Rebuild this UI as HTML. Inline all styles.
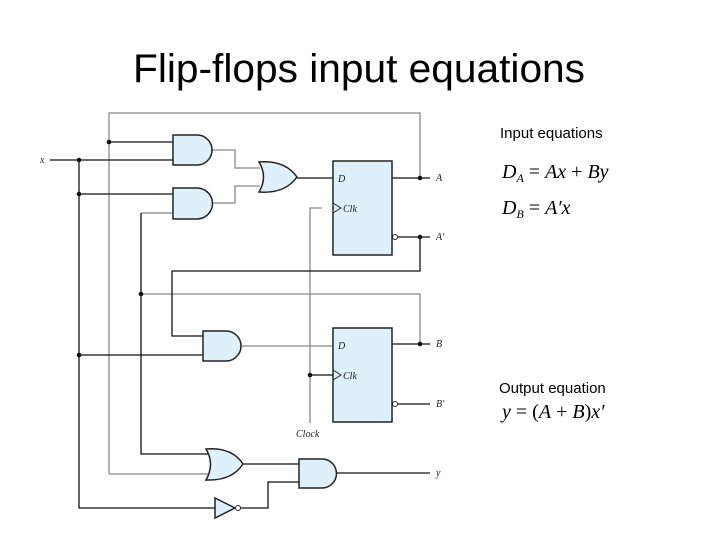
<!DOCTYPE html>
<html><head><meta charset="utf-8"><style>
body{margin:0;background:#fff;width:720px;height:540px;overflow:hidden}
</style></head><body>
<svg width="720" height="540" viewBox="0 0 720 540" xmlns="http://www.w3.org/2000/svg">
<text x="359" y="82" text-anchor="middle" font-family="Liberation Sans, sans-serif" font-size="40" textLength="452" lengthAdjust="spacingAndGlyphs" fill="#000">Flip-flops input equations</text>
<g fill="none" stroke-width="1.3">
<g stroke="#888">
<polyline points="109,474 109,113 420,113 420,178"/>
<polyline points="141,294 420,294 420,344"/>
<polyline points="212,150 235,150 235,168 260,168"/>
<polyline points="212,203 235,203 235,186 260,186"/>
<line x1="241" y1="346" x2="333" y2="346"/>
<polyline points="322,208 310,208 310,423"/>
<line x1="141" y1="213" x2="173" y2="213"/>
<line x1="109" y1="474" x2="208" y2="474"/>
</g>
<g stroke="#111">
<line x1="50" y1="160" x2="173" y2="160"/>
<line x1="109" y1="142" x2="173" y2="142"/>
<line x1="79" y1="194" x2="173" y2="194"/>
<polyline points="79,160 79,508 215,508"/>
<polyline points="141,213 141,454 208,454"/>
<line x1="297" y1="178" x2="333" y2="178"/>
<line x1="392" y1="178" x2="430" y2="178"/>
<line x1="398" y1="237" x2="430" y2="237"/>
<polyline points="420,237 420,271 172,271 172,336 203,336"/>
<line x1="79" y1="355" x2="203" y2="355"/>
<line x1="310" y1="375" x2="333" y2="375"/>
<line x1="392" y1="344" x2="430" y2="344"/>
<line x1="398" y1="404" x2="430" y2="404"/>
<line x1="243" y1="464" x2="299" y2="464"/>
<polyline points="241,508 268,508 268,482 299,482"/>
<line x1="337" y1="473" x2="430" y2="473"/>
</g>
<g stroke="#222" fill="#dff0fb" stroke-width="1.5">
<path d="M173,135 H197 A15,15 0 0 1 197,165 H173 Z"/>
<path d="M173,188 H197 A15.5,15.5 0 0 1 197,219 H173 Z"/>
<path d="M203,331 H226 A15,15 0 0 1 226,361 H203 Z"/>
<path d="M299,459 H322 A14.5,14.5 0 0 1 322,488 H299 Z"/>
<path d="M259,162 Q285,160 297,177 Q285,194 259,192 Q268,177 259,162 Z"/>
<path d="M206,449 Q232,447 243,464 Q232,481 206,480 Q215,464 206,449 Z"/>
<rect x="333" y="161" width="59" height="94"/>
<rect x="333" y="328" width="59" height="94"/>
<path d="M215,498 L235,508 L215,518 Z"/>
</g>
<g stroke="#222" fill="#fff" stroke-width="1">
<circle cx="395" cy="237" r="2.5"/>
<circle cx="395" cy="404" r="2.5"/>
<circle cx="238" cy="508" r="2.5"/>
<path d="M333,203 L341,208 L333,213" fill="none"/>
<path d="M333,370 L341,375 L333,380" fill="none"/>
</g>
</g>
<g fill="#111">
<circle cx="79" cy="160" r="2.3"/><circle cx="79" cy="194" r="2.3"/><circle cx="79" cy="355" r="2.3"/>
<circle cx="109" cy="142" r="2.3"/><circle cx="141" cy="294" r="2.3"/>
<circle cx="420" cy="178" r="2.3"/><circle cx="420" cy="237" r="2.3"/><circle cx="420" cy="344" r="2.3"/>
<circle cx="310" cy="375" r="2.3"/>
</g>
<g font-family="Liberation Serif, serif" font-style="italic" font-size="10" fill="#222">
<text x="40" y="163">x</text>
<text x="338" y="182">D</text><text x="343" y="212">Clk</text>
<text x="338" y="349">D</text><text x="343" y="379">Clk</text>
<text x="436" y="181">A</text><text x="436" y="240">A′</text>
<text x="436" y="347">B</text><text x="436" y="407">B′</text>
<text x="436" y="476">y</text>
<text x="296" y="437">Clock</text>
</g>
<g font-family="Liberation Sans, sans-serif" font-size="15" fill="#000">
<text x="500" y="138">Input equations</text>
<text x="499" y="393">Output equation</text>
</g>
<g font-family="Liberation Serif, serif" font-style="italic" font-size="20" fill="#000">
<text x="502" y="178">D<tspan font-size="12" dy="4">A</tspan><tspan dy="-4" font-style="normal"> = </tspan>Ax<tspan font-style="normal"> + </tspan>By</text>
<text x="502" y="214">D<tspan font-size="12" dy="4">B</tspan><tspan dy="-4" font-style="normal"> = </tspan>A′x</text>
<text x="502" y="418">y<tspan font-style="normal"> = (</tspan>A<tspan font-style="normal"> + </tspan>B<tspan font-style="normal">)</tspan>x′</text>
</g>
</svg>
</body></html>
